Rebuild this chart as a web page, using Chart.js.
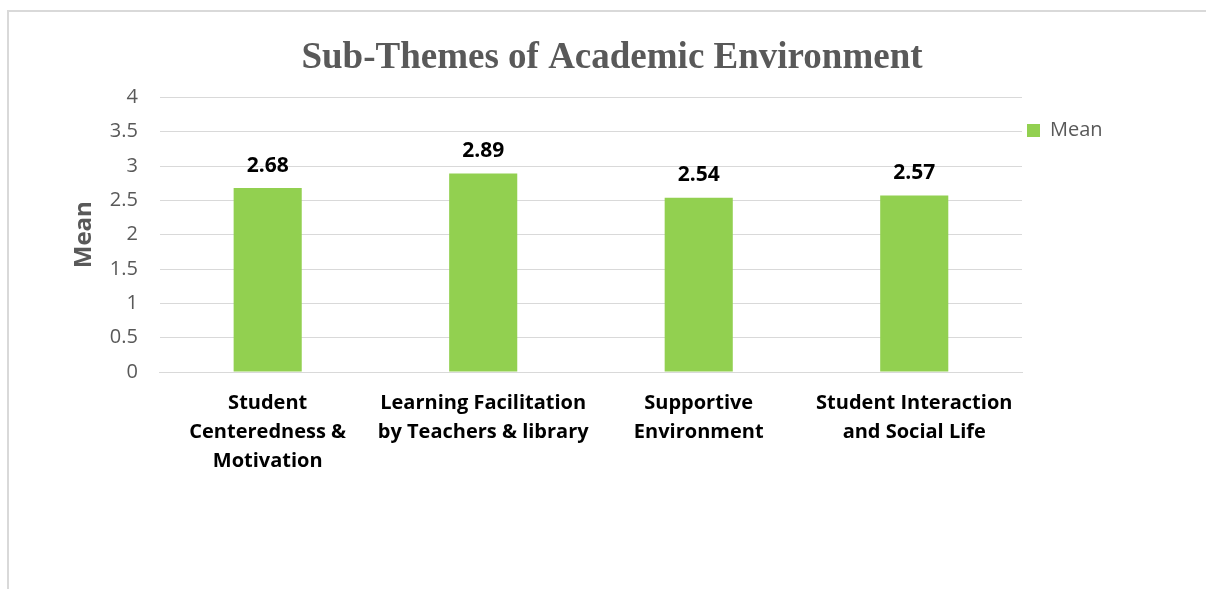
<!DOCTYPE html>
<html>
<head>
<meta charset="utf-8">
<script src="https://cdn.jsdelivr.net/npm/chart.js@4/dist/chart.umd.min.js"></script>
<style>
  html, body { margin: 0; padding: 0; background: #fff; overflow: hidden; }
  #frame { position: absolute; left: 7px; top: 10px; width: 1300px; height: 700px;
           border-left: 2px solid #d9d9d9; border-top: 2px solid #d9d9d9; }
  #wrap { position: absolute; left: 0; top: 0; width: 1206px; height: 589px; }
</style>
</head>
<body>
<div id="frame"></div>
<div id="wrap"><canvas id="meanChart"></canvas></div>
<script>
// categories and values
var categories = [
    ['Student', 'Centeredness &', 'Motivation'],
    ['Learning Facilitation', 'by Teachers & library'],
    ['Supportive', 'Environment'],
    ['Student Interaction', 'and Social Life']
];
var meanValues = [2.68, 2.89, 2.54, 2.57];
var yTicks = [0, 0.5, 1, 1.5, 2, 2.5, 3, 3.5, 4];

var labelFont = "'Open Sans', Carlito, Calibri, sans-serif";
var legendBoxWidth = 144;

// value labels above the bars
var valueLabels = {
    id: 'valueLabels',
    afterDatasetsDraw: function (chart) {
        var ctx = chart.ctx;
        ctx.save();
        ctx.font = 'bold 21px ' + labelFont;
        ctx.fillStyle = '#000';
        ctx.textAlign = 'center';
        ctx.textBaseline = 'bottom';
        chart.getDatasetMeta(0).data.forEach(function (bar, i) {
            ctx.fillText(meanValues[i].toFixed(2), bar.x, bar.y - 12);
        });
        ctx.restore();
    }
};

// give the legend a fixed width so the title sits where it does in the original
var legendWidth = {
    id: 'legendWidth',
    beforeLayout: function (chart) {
        var lg = chart.legend;
        if (lg && !lg._fixedWidth) {
            var fit = lg.fit;
            lg.fit = function () {
                fit.call(this);
                if (!this.isHorizontal()) this.width = legendBoxWidth;
            };
            lg._fixedWidth = true;
        }
    }
};

var ctxMean = document.getElementById('meanChart').getContext('2d');
var meanChart = new Chart(ctxMean, {
    type: 'bar',
    data: {
        labels: categories,
        datasets: [{
            label: 'Mean',
            data: meanValues,
            backgroundColor: '#92d050',
            borderWidth: 0,
            categoryPercentage: 1,
            barPercentage: 0.316
        }]
    },
    options: {
        responsive: true,
        maintainAspectRatio: false,
        animation: false,
        layout: {
            padding: { left: 58, right: 40, top: 28, bottom: 96 }
        },
        plugins: {
            title: {
                display: true,
                text: 'Sub-Themes of Academic Environment',
                color: '#595959',
                font: { family: "'Liberation Serif', 'Times New Roman', serif", size: 37, weight: 'bold' },
                padding: { top: 8, bottom: 17 }
            },
            legend: {
                position: 'right',
                align: 'start',
                fullSize: false,
                title: {
                    display: true,
                    text: ' ',
                    font: { size: 10 },
                    padding: { top: 6, bottom: 0 }
                },
                labels: {
                    boxWidth: 13,
                    boxHeight: 13,
                    color: '#595959',
                    font: { family: labelFont, size: 20 },
                    padding: 5
                }
            },
            tooltip: { enabled: false }
        },
        scales: {
            x: {
                grid: { display: false, drawTicks: false },
                border: { display: true, color: '#d9d9d9', width: 1 },
                ticks: {
                    color: '#000',
                    padding: 17,
                    maxRotation: 0,
                    autoSkip: false,
                    font: { family: labelFont, size: 20, weight: 'bold', lineHeight: 1.45 }
                }
            },
            y: {
                min: 0,
                max: 4,
                afterBuildTicks: function (axis) {
                    axis.ticks = yTicks.map(function (v) { return { value: v }; });
                },
                grid: { color: '#d9d9d9', drawTicks: false },
                border: { display: false },
                ticks: {
                    color: '#595959',
                    padding: 22,
                    font: { family: labelFont, size: 20 },
                    callback: function (v) { return String(v); }
                },
                title: {
                    display: true,
                    text: 'Mean',
                    color: '#595959',
                    padding: { top: 12, bottom: -11 },
                    font: { family: labelFont, size: 24, weight: 'bold' }
                }
            }
        }
    },
    plugins: [valueLabels, legendWidth]
});
</script>
</body>
</html>
